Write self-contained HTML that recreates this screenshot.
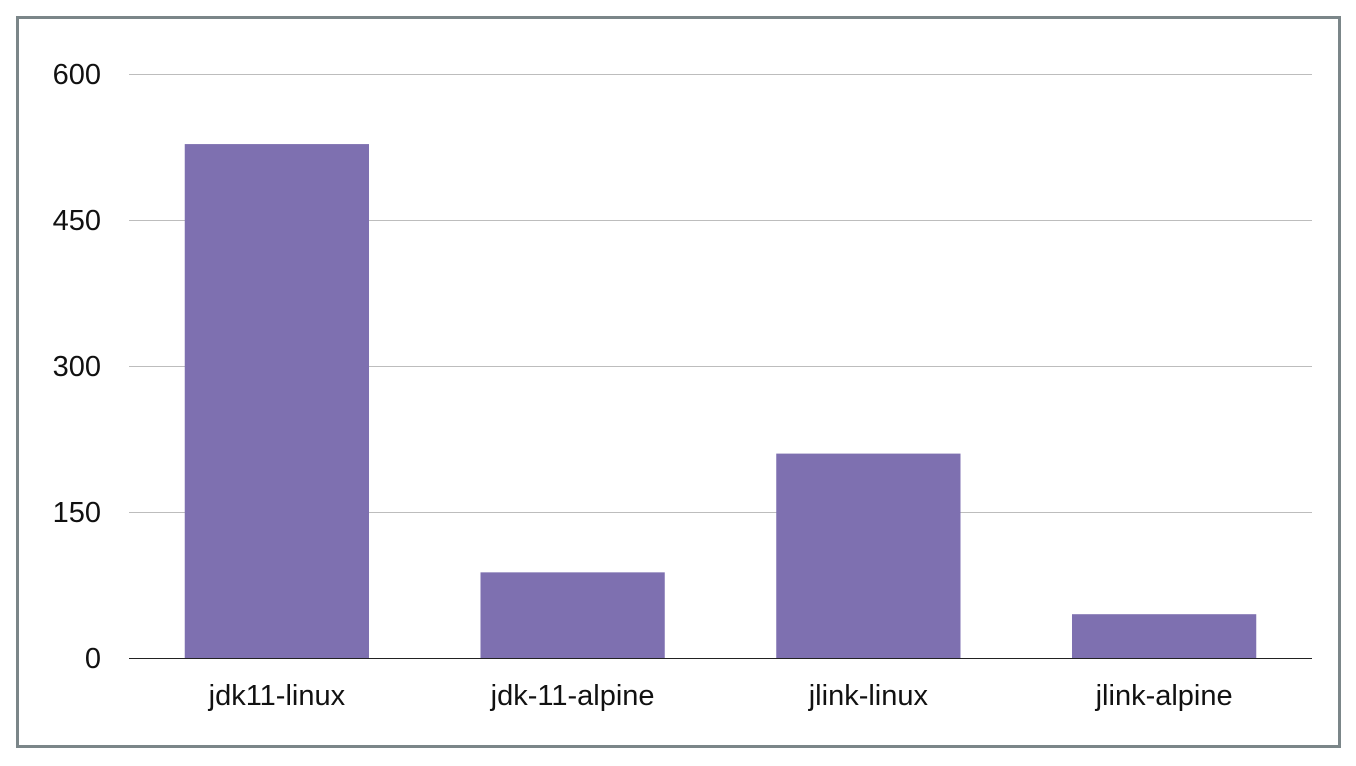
<!DOCTYPE html>
<html><head><meta charset="utf-8"><style>
html,body{margin:0;padding:0;background:#fff;width:1356px;height:766px;overflow:hidden}
svg{display:block}
text{font-family:"Liberation Sans",sans-serif;fill:#111}
</style></head><body>
<svg width="1356" height="766">
<rect x="17.5" y="17.5" width="1322" height="729" fill="#fff" stroke="#7b8689" stroke-width="3"/>
<g id="grid"></g><g id="bars"></g><g id="labels"></g>
</svg>
<script>
const categories=["jdk11-linux","jdk-11-alpine","jlink-linux","jlink-alpine"];
const values=[528,88,210,45];
const ticks=[0,150,300,450,600];
const ns="http://www.w3.org/2000/svg";
const x0=129,x1=1312,yTop=74,yBot=658,maxV=600;
const y=v=>yBot-(v/maxV)*(yBot-yTop);
const bw=(x1-x0)/categories.length;
function mk(t,a,p){const e=document.createElementNS(ns,t);for(const k in a)e.setAttribute(k,a[k]);p.appendChild(e);return e;}
const grid=document.getElementById('grid'),bars=document.getElementById('bars'),labels=document.getElementById('labels');
ticks.forEach(t=>{
 const l=mk('line',{x1:x0,x2:x1,y1:y(t)+0.5,y2:y(t)+0.5,stroke:t===0?'#222':'#bdbdbd','stroke-width':1},grid);
 
 
 const tx=mk('text',{x:101,y:y(t)+10,'text-anchor':'end','font-size':29},labels);
 tx.textContent=t;
 
 
});
categories.forEach((c,i)=>{
 const cx=x0+bw*(i+0.5),w=bw*0.623;
 const r=mk('rect',{x:cx-w/2,y:y(values[i]),width:w,height:yBot-y(values[i]),fill:'#7e70b0'},bars);
 
 
 const t=mk('text',{x:cx,y:705,'text-anchor':'middle','font-size':29},labels);
 t.textContent=c;
 
 
});
</script>
</body></html>
